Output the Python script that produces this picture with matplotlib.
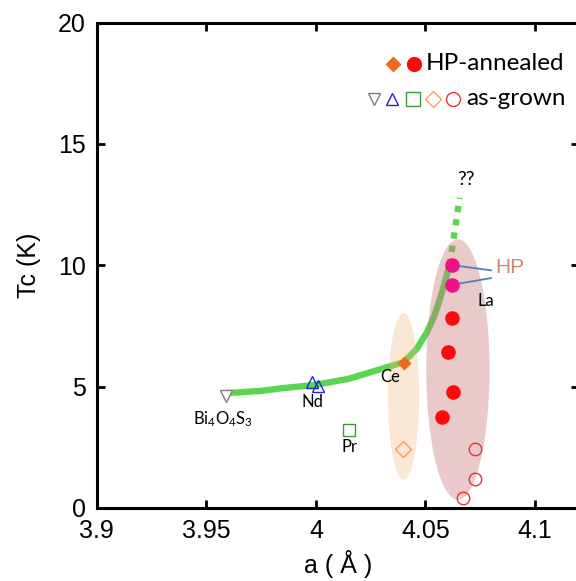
import matplotlib
matplotlib.use("Agg")
import matplotlib.pyplot as plt
from matplotlib.patches import Ellipse

plt.rcParams['font.family'] = ['Liberation Sans', 'DejaVu Sans']
plt.rcParams['mathtext.fontset'] = 'custom'
plt.rcParams['mathtext.rm'] = 'Lato'
plt.rcParams['mathtext.default'] = 'regular'

# guide curve (solid part, then dotted extrapolation)
curve_a = [3.9575, 3.975, 3.9836, 4.0, 4.015, 4.029, 4.040, 4.046, 4.0506, 4.054, 4.0566, 4.0587, 4.0604, 4.0610]
curve_tc = [4.72, 4.82, 4.92, 5.07, 5.32, 5.70, 6.00, 6.55, 7.23, 7.90, 8.60, 9.25, 9.83, 10.0]
dotted_a = [4.0610, 4.0656]
dotted_tc = [10.0, 12.78]

# HP-annealed
la_hp_a = [4.0604, 4.0627, 4.0574, 4.0621]
la_hp_tc = [6.42, 4.78, 3.75, 7.81]
la_hp_top_a = [4.062, 4.062]
la_hp_top_tc = [10.0, 9.2]
ce_hp_a = [4.040]
ce_hp_tc = [5.98]

# as-grown
bi_a, bi_tc = [3.959], [4.6]
nd_a, nd_tc = [3.998, 4.001], [5.18, 5.01]
pr_a, pr_tc = [4.015], [3.19]
ce_a, ce_tc = [4.0396], [2.43]
la_a = [4.0726, 4.0726, 4.0673]
la_tc = [2.43, 1.2, 0.40]

fig = plt.figure(figsize=(5.76, 5.81), dpi=100)
ax = fig.add_axes([0.168, 0.126, 0.837, 0.835])

ax.plot(curve_a, curve_tc, color='#5ad650', lw=4.6, solid_capstyle='butt', zorder=1)
ax.plot(dotted_a, dotted_tc, color='#5ad650', lw=4.6, dashes=(1, 1.1), dash_capstyle='butt', zorder=1)

ax.add_patch(Ellipse((4.0648, 5.70), 0.0289, 10.74, facecolor='#c87878', alpha=0.4, lw=0, zorder=2))
ax.add_patch(Ellipse((4.0400, 4.59), 0.0142, 6.86, facecolor='#f5b07a', alpha=0.3, lw=0, zorder=2))

ax.plot(la_hp_a, la_hp_tc, 'o', color='#ff0a0a', ms=10.5, mec='none', zorder=4)
ax.plot(la_hp_top_a, la_hp_top_tc, 'o', color='#ee1289', ms=10.5, mec='none', zorder=4)
ax.plot(ce_hp_a, ce_hp_tc, 'D', color='#ee6a1a', ms=7.5, mec='none', zorder=4)

ax.plot(bi_a, bi_tc, 'v', mfc='white', mec='#8a7a70', ms=9, mew=1, zorder=4)
ax.plot(nd_a, nd_tc, '^', mfc='none', mec='#2222dd', ms=9, mew=1, zorder=4)
ax.plot(pr_a, pr_tc, 's', mfc='none', mec='#3a9a3a', ms=9, mew=1, zorder=4)
ax.plot(ce_a, ce_tc, 'D', mfc='none', mec='#f5a060', ms=8, mew=1, zorder=4)
ax.plot(la_a, la_tc, 'o', mfc='none', mec='#f03030', ms=9, mew=1, zorder=4)

# HP pointers
ax.plot([4.0625, 4.0799], [10.0, 9.79], color='#4f81bd', lw=1.3, zorder=3)
ax.plot([4.0625, 4.0799], [9.2, 9.47], color='#4f81bd', lw=1.3, zorder=3)
ax.text(4.0817, 9.92, 'HP', color='#c98a70', fontsize=15, va='center', ha='left')

lab = dict(fontsize=12, family=['Lato', 'DejaVu Sans'], ha='center', va='center')
ax.text(4.0685, 13.55, '??', fontsize=14, family=['Lato', 'DejaVu Sans'], ha='center', va='center')
ax.text(4.0776, 8.52, 'La', **lab)
ax.text(4.0338, 5.40, 'Ce', **lab)
ax.text(3.9985, 4.35, 'Nd', **lab)
ax.text(3.9577, 3.64, 'Bi$_4$O$_4$S$_3$', **lab)
ax.text(4.0151, 2.51, 'Pr', **lab)

# legend drawn by hand
tr = ax.transAxes
ax.plot([0.614], [0.9155], 'D', color='#ee6a1a', ms=8, mec='none', transform=tr, clip_on=False)
ax.plot([0.658], [0.9155], 'o', color='#ff0a0a', ms=11, mec='none', transform=tr, clip_on=False)
ax.text(0.683, 0.9155, 'HP-annealed', transform=tr, fontsize=17.5, family=['Lato', 'DejaVu Sans'], va='center')
ax.plot([0.575], [0.843], 'v', mfc='none', mec='#8a7a70', ms=9, mew=1, transform=tr)
ax.plot([0.612], [0.843], '^', mfc='none', mec='#2222dd', ms=9, mew=1, transform=tr)
ax.plot([0.656], [0.843], 's', mfc='none', mec='#3a9a3a', ms=10, mew=1, transform=tr)
ax.plot([0.697], [0.843], 'D', mfc='none', mec='#f5a060', ms=8, mew=1, transform=tr)
ax.plot([0.739], [0.843], 'o', mfc='none', mec='#f03030', ms=10, mew=1, transform=tr)
ax.text(0.766, 0.843, 'as-grown', transform=tr, fontsize=17.5, family=['Lato', 'DejaVu Sans'], va='center')

ax.set_xlim(3.9, 4.12)
ax.set_ylim(0, 20)
ax.set_xticks([3.9, 3.95, 4.0, 4.05, 4.1])
ax.set_xticklabels(['3.9', '3.95', '4', '4.05', '4.1'])
ax.set_yticks([0, 5, 10, 15, 20])
ax.tick_params(direction='in', length=6, width=2, labelsize=18, top=True, right=True, pad=8)
for s in ax.spines.values():
    s.set_linewidth(2.2)
ax.set_xlabel('a ( Å )', fontsize=18, labelpad=5)
ax.set_ylabel('Tc (K)', fontsize=18, labelpad=12)

fig.savefig('out.png', dpi=100)
